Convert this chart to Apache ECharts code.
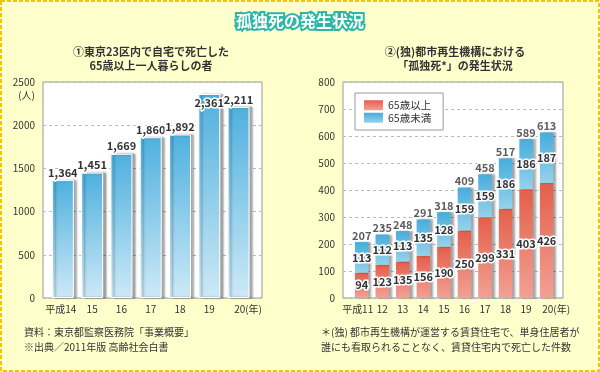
<!DOCTYPE html>
<html>
<head>
<meta charset="utf-8">
<script src="https://cdn.jsdelivr.net/npm/echarts@6/dist/echarts.min.js"></script>
<style>
html,body{margin:0;padding:0;background:#ffffcc;}
#c{width:600px;height:372px;}
</style>
</head>
<body>
<div id="c"></div>
<script>
// ---- Data ----
const leftCategories = ['平成14', '15', '16', '17', '18', '19', '20(年)'];
const leftValues = [1364, 1451, 1669, 1860, 1892, 2361, 2211];
const leftYTicks = { min: 0, max: 2500, interval: 500 };

const rightCategories = ['平成11', '12', '13', '14', '15', '16', '17', '18', '19', '20(年)'];
const over65 = [94, 123, 135, 156, 190, 250, 299, 331, 403, 426];
const under65 = [113, 112, 113, 135, 128, 159, 159, 186, 186, 187];
const totals = [207, 235, 248, 291, 318, 409, 458, 517, 589, 613];
const rightYTicks = { min: 0, max: 800, interval: 100 };

const seriesNames = ['65歳以上', '65歳未満'];

// ---- Styles ----
const FONT = '"Noto Sans CJK JP", "Noto Sans", sans-serif';
const TXT = '#333';
function grad(top, bottom) {
  return new echarts.graphic.LinearGradient(0, 0, 0, 1, [
    { offset: 0, color: top }, { offset: 1, color: bottom }
  ]);
}
const blueBar = grad('#4fb0df', '#cde9f6');
const redSeg = grad('#e45f4a', '#f2a194');
const blueSeg = grad('#46addc', '#95d2ea');
const barShadow = { shadowColor: 'rgba(0,0,0,0.35)', shadowBlur: 2, shadowOffsetX: 3, shadowOffsetY: 0 };
const valLabel = {
  show: true, fontFamily: FONT, fontSize: 11, fontWeight: 'bold', color: '#333',
  textBorderColor: '#fff', textBorderWidth: 3
};
function comma(v) { return String(v).replace(/\B(?=(\d{3})+(?!\d))/g, ','); }
function xLabelFmt(last) {
  return function (v, i) {
    if (i === last) return '{pad|}' + v;
    if (i === 0) return v + '{padR|}';
    return v;
  };
}
const xLabelBase = { fontFamily: FONT, fontSize: 10, color: TXT, margin: 6, interval: 0 };

const chart = echarts.init(document.getElementById('c'), null, { renderer: 'canvas' });
chart.setOption({
  animation: false,
  backgroundColor: '#ffffcc',
  textStyle: { fontFamily: FONT },
  grid: [
    { left: 43, top: 82, width: 219, height: 216, show: true, backgroundColor: '#fff', borderColor: '#999', borderWidth: 1 },
    { left: 48.2, top: 82, width: 205, height: 216 },
    { left: 343, top: 82, width: 220, height: 216, show: true, backgroundColor: '#fff', borderColor: '#999', borderWidth: 1 },
    { left: 351.4, top: 82, width: 205.5, height: 216 }
  ],
  xAxis: [
    { gridIndex: 0, type: 'category', data: [''], show: false },
    { gridIndex: 1, type: 'category', data: leftCategories,
      axisLine: { show: false }, axisTick: { show: false },
      axisLabel: Object.assign({}, xLabelBase, { formatter: xLabelFmt(leftCategories.length - 1), rich: { pad: { width: 19 }, padR: { width: 4 } } }) },
    { gridIndex: 2, type: 'category', data: [''], show: false },
    { gridIndex: 3, type: 'category', data: rightCategories,
      axisLine: { show: false }, axisTick: { show: false },
      axisLabel: Object.assign({}, xLabelBase, { formatter: xLabelFmt(rightCategories.length - 1), rich: { pad: { width: 19 }, padR: { width: 8 } } }) }
  ],
  yAxis: [
    { gridIndex: 0, type: 'value', min: leftYTicks.min, max: leftYTicks.max, interval: leftYTicks.interval,
      axisLine: { show: false }, axisTick: { show: false },
      axisLabel: { fontFamily: FONT, fontSize: 10, color: TXT, margin: 8, formatter: v => String(v) },
      splitLine: { lineStyle: { color: '#bbb', type: [3, 3] } } },
    { gridIndex: 1, type: 'value', min: leftYTicks.min, max: leftYTicks.max, show: false, splitLine: { show: false } },
    { gridIndex: 2, type: 'value', min: rightYTicks.min, max: rightYTicks.max, interval: rightYTicks.interval,
      axisLine: { show: false }, axisTick: { show: false },
      axisLabel: { fontFamily: FONT, fontSize: 10, color: TXT, margin: 8, formatter: v => String(v) },
      splitLine: { lineStyle: { color: '#bbb', type: [3, 3] } } },
    { gridIndex: 3, type: 'value', min: rightYTicks.min, max: rightYTicks.max, show: false, splitLine: { show: false } }
  ],
  legend: {
    data: seriesNames, orient: 'vertical', left: 355, top: 93,
    backgroundColor: '#fff', borderColor: '#999', borderWidth: 1,
    padding: [7, 12, 7, 9], itemWidth: 19, itemHeight: 10, itemGap: 2,
    icon: 'rect',
    textStyle: { fontFamily: FONT, fontSize: 10.5, color: TXT }
  },
  series: [
    { type: 'bar', xAxisIndex: 1, yAxisIndex: 1, barWidth: 22,
      data: leftValues.map((v, i) => i === 5 ? { value: v, label: { position: 'insideTop', distance: 3 } } : v),
      itemStyle: Object.assign({ color: blueBar, borderColor: '#fff', borderWidth: 1 }, barShadow),
      label: Object.assign({}, valLabel, { position: 'top', distance: 2, formatter: p => comma(p.value) }) },
    { name: seriesNames[0], type: 'bar', xAxisIndex: 3, yAxisIndex: 3, stack: 'a', barWidth: 13.5,
      data: over65,
      itemStyle: Object.assign({ color: redSeg }, barShadow),
      label: Object.assign({}, valLabel, { position: 'inside' }) },
    { name: seriesNames[1], type: 'bar', xAxisIndex: 3, yAxisIndex: 3, stack: 'a', barWidth: 13.5,
      data: under65,
      itemStyle: Object.assign({ color: blueSeg }, barShadow),
      label: Object.assign({}, valLabel, { position: 'inside' }) },
    { type: 'scatter', xAxisIndex: 3, yAxisIndex: 3, symbolSize: 0, silent: true,
      data: totals,
      label: Object.assign({}, valLabel, { position: 'top', distance: 1 }) }
  ],
  graphic: [
    { type: 'rect', z: -10, shape: { x: 1, y: 1, width: 598, height: 370 },
      style: { fill: '#ffffcc', stroke: '#f5c400', lineWidth: 2, lineDash: [4, 2] } },
    { type: 'text', x: 300, y: 21,
      style: { text: '孤独死の発生状況', fontFamily: FONT, fontSize: 16, fontWeight: 'bold', fill: '#fff',
        stroke: '#2db5a6', lineWidth: 4, align: 'center', verticalAlign: 'middle',
        shadowColor: 'rgba(0,90,80,0.4)', shadowBlur: 2 } },
    { type: 'text', x: 151, y: 59,
      style: { text: '①東京23区内で自宅で死亡した\n65歳以上一人暮らしの者', fontFamily: FONT, fontSize: 11, fontWeight: 'bold',
        fill: TXT, align: 'center', verticalAlign: 'middle', lineHeight: 14 } },
    { type: 'text', x: 455, y: 59,
      style: { text: '②(独)都市再生機構における\n「孤独死*」の発生状況', fontFamily: FONT, fontSize: 11, fontWeight: 'bold',
        fill: TXT, align: 'center', verticalAlign: 'middle', lineHeight: 14 } },
    { type: 'text', x: 35, y: 95,
      style: { text: '(人)', fontFamily: FONT, fontSize: 10, fill: TXT, align: 'right', verticalAlign: 'middle' } },
    { type: 'text', x: 24, y: 340,
      style: { text: '資料：東京都監察医務院「事業概要」\n※出典／2011年版 高齢社会白書', fontFamily: FONT, fontSize: 10,
        fill: TXT, align: 'left', verticalAlign: 'middle', lineHeight: 15 } },
    { type: 'text', x: 321, y: 340,
      style: { text: '＊(独) 都市再生機構が運営する賃貸住宅で、単身住居者が\n誰にも看取られることなく、賃貸住宅内で死亡した件数', fontFamily: FONT, fontSize: 10,
        fill: TXT, align: 'left', verticalAlign: 'middle', lineHeight: 15 } }
  ]
});
</script>
</body>
</html>
